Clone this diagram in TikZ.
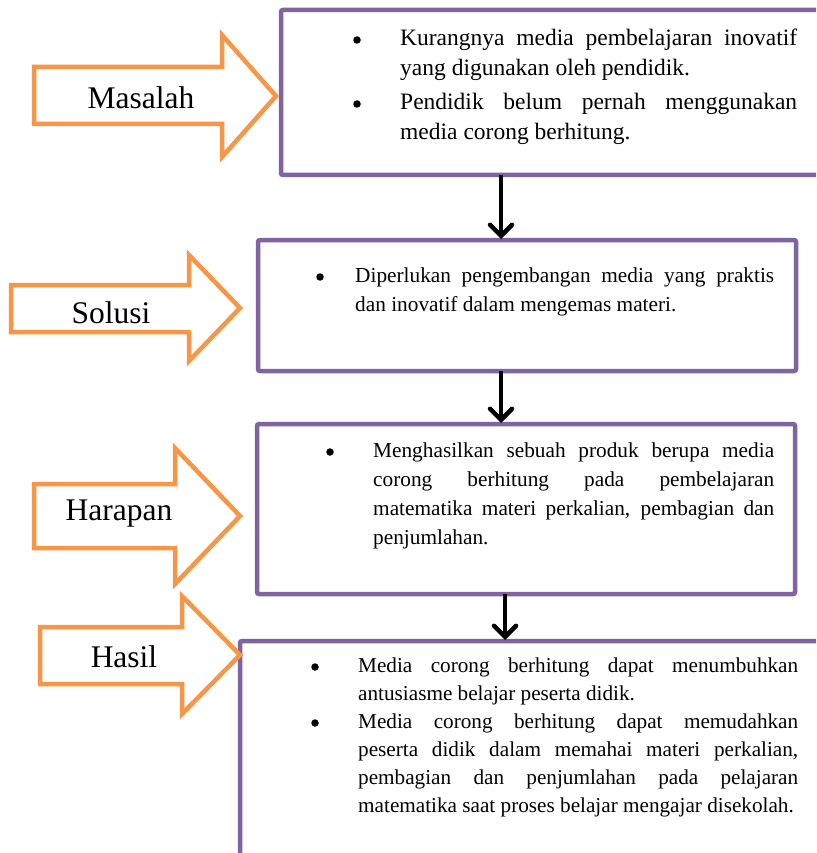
\documentclass[tikz,border=0pt]{standalone}
\usepackage{fontspec}
\setmainfont{Liberation Serif}
\usetikzlibrary{arrows.meta}
\definecolor{orng}{HTML}{F79646}
\definecolor{purp}{HTML}{8064A2}
\hyphenpenalty=10000
\exhyphenpenalty=10000
\begin{document}
\begin{tikzpicture}[x=1pt,y=-1pt,
  box/.style={draw=purp, line width=4.5pt, rounded corners=2pt, fill=white, inner sep=0, outer sep=0, anchor=north west},
  barrow/.style={draw=orng, line width=4.5pt, fill=white, line join=miter},
  lbl/.style={font=\fontsize{31.5}{36}\selectfont, inner sep=0},
  bigtxt/.style={anchor=base west, inner sep=0, align=justify, font=\fontsize{23.5}{30}\selectfont},
  smtxt/.style={anchor=base west, inner sep=0, align=justify, font=\fontsize{21.3}{29.3}\selectfont},
  bul/.style={circle, fill=black, inner sep=0, minimum size=7.5pt},
  darr/.style={draw=black, line width=4.5pt, -{Straight Barb[length=11pt,width=22pt,line cap=round]}, shorten >=1pt}
]
\clip (0,0) rectangle (816,853);
\fill[white] (0,0) rectangle (816,853);

% boxes
\node[box, minimum width=560pt, minimum height=165pt] (b1) at (281,10) {};
\node[box, minimum width=538pt, minimum height=131pt] (b2) at (258,240) {};
\node[box, minimum width=538pt, minimum height=170pt] (b3) at (257,424) {};
\node[box, minimum width=600pt, minimum height=240pt] (b4) at (240,641) {};

% down arrows
\coordinate (c1) at (501,0);
\coordinate (c2) at (501,0);
\coordinate (c3) at (505,0);
\draw[darr] (c1 |- b1.south) -- (c1 |- b2.north);
\draw[darr] (c2 |- b2.south) -- (c2 |- b3.north);
\draw[darr] (c3 |- b3.south) -- (c3 |- b4.north);

% block arrows
\draw[barrow] (34,67) -- (222,67) -- (222,35) -- (276,96) -- (222,157) -- (222,124) -- (34,124) -- cycle;
\node[lbl] (lm) at (141,98) {Masalah};
\draw[barrow] (11,285) -- (189,285) -- (189,255) -- (240,308) -- (189,361) -- (189,332) -- (11,332) -- cycle;
\node[lbl] (ls) at (111,313) {Solusi};
\draw[barrow] (34,484) -- (175,484) -- (175,448) -- (240,516) -- (175,584) -- (175,548) -- (34,548) -- cycle;
\node[lbl] (lh) at (119,514) {Harapan};
\draw[barrow] (40,627) -- (182,627) -- (182,596) -- (240,655) -- (182,714) -- (182,684) -- (40,684) -- cycle;
\node[lbl] (lhs) at (124,657) {Hasil};

% box 1 text
\node[bul] (p1b) at (357,40) {};
\node[bigtxt, text width=397pt] (p1) at (400,46) {Kurangnya media pembelajaran inovatif\linebreak yang digunakan oleh pendidik.};
\node[bul] (p2b) at (357,104) {};
\node[bigtxt, text width=397pt] (p2) at (400,110) {Pendidik belum pernah menggunakan\linebreak media corong berhitung.};

% box 2 text
\node[bul] (s1b) at (320,277) {};
\node[smtxt, text width=419pt] (s1) at (355,282) {Diperlukan pengembangan media yang praktis\linebreak dan inovatif dalam mengemas materi.};

% box 3 text
\node[bul] (h1b) at (330,452) {};
\node[smtxt, text width=401pt] (h1) at (373,457) {Menghasilkan sebuah produk berupa media\linebreak corong berhitung pada pembelajaran\linebreak matematika materi perkalian, pembagian dan\linebreak penjumlahan.};

% box 4 text
\node[bul] (r1b) at (315,667) {};
\node[smtxt, text width=440pt, font=\fontsize{21.2}{28.2}\selectfont] (r1) at (358,672) {Media corong berhitung dapat menumbuhkan\linebreak antusiasme belajar peserta didik.};
\node[bul] (r2b) at (315,723) {};
\node[smtxt, text width=440pt, font=\fontsize{21.2}{28.2}\selectfont] (r2) at (358,728) {Media corong berhitung dapat memudahkan\linebreak peserta didik dalam memahai materi perkalian,\linebreak pembagian dan penjumlahan pada pelajaran\linebreak \mbox{matematika saat proses belajar mengajar disekolah.}};
\end{tikzpicture}
\end{document}
